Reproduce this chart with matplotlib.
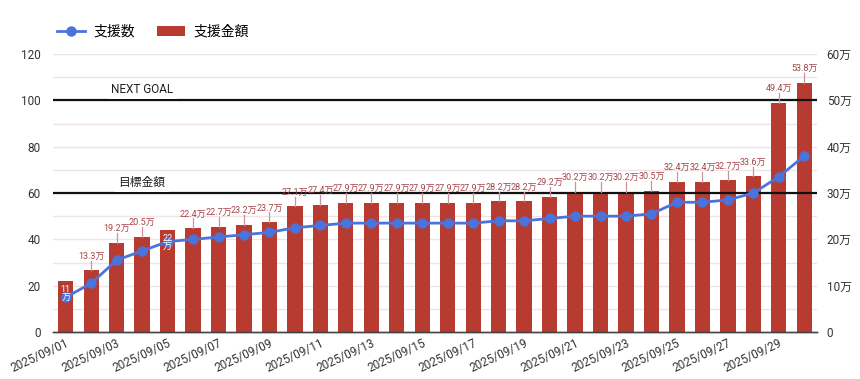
import matplotlib
matplotlib.use("Agg")
import matplotlib.pyplot as plt
import numpy as np
from matplotlib.lines import Line2D
from matplotlib.patches import Patch

dates = ["2025/09/%02d" % d for d in range(1, 31)]
supporters = [15, 21, 31, 35, 39, 40, 41, 42, 43, 45, 46, 47, 47, 47, 47, 47, 47, 48, 48, 49,
              50, 50, 50, 51, 56, 56, 57, 60, 67, 76]
amounts = [11, 13.3, 19.2, 20.5, 22, 22.4, 22.7, 23.2, 23.7, 27.1, 27.4, 27.9, 27.9, 27.9, 27.9,
           27.9, 27.9, 28.2, 28.2, 29.2, 30.2, 30.2, 30.2, 30.5, 32.4, 32.4, 32.7, 33.6, 49.4, 53.8]
left_ticks = [0, 20, 40, 60, 80, 100, 120]
right_ticks = [0, 10, 20, 30, 40, 50, 60]
right_labels = ["0", "10万", "20万", "30万", "40万", "50万", "60万"]
goal_lines = [30, 50]          # in 万
goal_texts = ["目標金額", "NEXT GOAL"]

FAM = ["Roboto", "Noto Sans CJK JP", "DejaVu Sans"]
plt.rcParams["font.family"] = FAM

BAR = "#b83b32"
BLUE = "#4a73dc"
LBL = "#a5444b"
TXT = "#333333"

fig = plt.figure(figsize=(8.6, 3.79), dpi=100)
ax_bar = fig.add_axes([0.0616, 0.124, 0.8884, 0.7335])
ax_line = ax_bar.twinx()

x = np.arange(len(dates))

# faint grid (left scale every 10 -> right scale every 5)
for g in np.arange(5, 61, 5):
    ax_bar.axhline(g, color="#efe3e3", lw=1.0, zorder=0)

ax_bar.bar(x, amounts, width=0.6, color=BAR, zorder=2)

# goal lines
for gl, gt in zip(goal_lines, goal_texts):
    ax_bar.axhline(gl, color="#111111", lw=1.6, zorder=3)
    ax_bar.text(3.0, gl + 1.0, gt, ha="center", va="bottom", fontsize=8.5,
                color="#222222", zorder=4,
                bbox=dict(facecolor="white", edgecolor="none", pad=2.5))

ax_line.plot(x, supporters, color=BLUE, lw=2, marker="o", markersize=6.5, zorder=6)

# value labels
for xi, v in zip(x, amounts):
    if float(v).is_integer():
        ax_line.text(xi, v - 0.8, "%d\n万" % v, ha="center", va="top", fontsize=6.5,
                     color="white", linespacing=1.05, zorder=8,
                     transform=ax_bar.transData)
    else:
        ax_bar.plot([xi, xi], [v, v + 2.1], color="#c99599", lw=0.9, zorder=4)
        ax_bar.text(xi, v + 2.1, "%.1f万" % v, ha="center", va="bottom", fontsize=6.5,
                    color=LBL, zorder=5)

ax_bar.set_ylim(0, 60)
ax_bar.set_xlim(-0.5, len(dates) - 0.5)
ax_bar.yaxis.tick_right()
ax_bar.set_yticks(right_ticks)
ax_bar.set_yticklabels(right_labels)

ax_line.set_ylim(0, 120)
ax_line.yaxis.tick_left()
ax_line.set_yticks(left_ticks)

for a in (ax_bar, ax_line):
    for s in ("top", "left", "right"):
        a.spines[s].set_visible(False)
    a.spines["bottom"].set_color("#444444")
    a.spines["bottom"].set_linewidth(1.0)
    a.tick_params(length=0, labelsize=8.5, colors=TXT)

ax_bar.tick_params(axis="y", pad=7)
ax_line.tick_params(axis="y", pad=9)

ax_bar.set_xticks(x[::2])
ax_bar.set_xticklabels(dates[::2], rotation=25, ha="right", rotation_mode="anchor",
                       fontsize=8.5, color=TXT)
ax_bar.tick_params(axis="x", pad=3)

# legend
handles = [Line2D([0], [0], color=BLUE, lw=2, marker="o", markersize=6.5),
           Patch(facecolor=BAR, edgecolor="none")]
fig.legend(handles, ["支援数", "支援金額"], loc="center left", bbox_to_anchor=(0.052, 0.916),
           ncol=2, frameon=False, fontsize=10, handlelength=2.0, columnspacing=1.6,
           handletextpad=0.6)

fig.savefig("out.png", dpi=100)
